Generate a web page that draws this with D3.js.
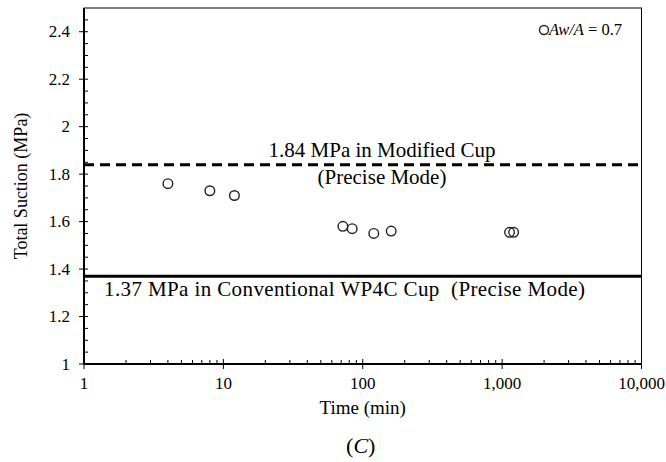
<!DOCTYPE html>
<html>
<head>
<meta charset="utf-8">
<script src="https://cdn.jsdelivr.net/npm/d3@7"></script>
<style>
  body { margin: 0; background: #fff; }
</style>
</head>
<body>
<svg id="chart" width="666" height="462" font-family="'Liberation Serif', Tinos, 'DejaVu Serif', serif"></svg>
<script>
// measured points (Aw/A = 0.7)
const times = [4, 8, 12, 72, 84, 120, 160, 1130, 1210];
const suction = [1.76, 1.73, 1.71, 1.58, 1.57, 1.55, 1.56, 1.555, 1.555];

// reference lines
const refValues = [1.84, 1.37];
const refSpan = [1, 10000];

const yTicks = [1, 1.2, 1.4, 1.6, 1.8, 2, 2.2, 2.4];
const xTicks = [1, 10, 100, 1000, 10000];

const svg = d3.select('#chart');
const margin = { top: 8, right: 24.5, bottom: 98, left: 84 };
const width = 666 - margin.left - margin.right;
const height = 462 - margin.top - margin.bottom;

const x = d3.scaleLog().domain([1, 10000]).range([0, width]);
const y = d3.scaleLinear().domain([1, 2.5]).range([height, 0]);

const g = svg.append('g').attr('transform', `translate(${margin.left},${margin.top})`);

// frame (top & right thin)
g.append('rect')
    .attr('x', 0).attr('y', 0)
    .attr('width', width).attr('height', height)
    .attr('fill', 'none').attr('stroke', '#000').attr('stroke-width', 1);

// minor ticks y (inside)
const yMinor = d3.range(1.05, 2.5, 0.05).filter(v => Math.abs(v * 5 - Math.round(v * 5)) > 1e-6);
g.selectAll('.ymin').data(yMinor).join('line')
    .attr('x1', 0).attr('x2', 4)
    .attr('y1', d => y(d)).attr('y2', d => y(d))
    .attr('stroke', '#000').attr('stroke-width', 1);

// major ticks y (cross)
g.selectAll('.ymaj').data(yTicks).join('line')
    .attr('x1', -5).attr('x2', 4)
    .attr('y1', d => y(d)).attr('y2', d => y(d))
    .attr('stroke', '#000').attr('stroke-width', 1);

g.selectAll('.ylab').data(yTicks).join('text')
    .attr('x', -14).attr('y', d => y(d)).attr('dy', '0.33em')
    .attr('text-anchor', 'end').attr('font-size', 17)
    .text(d => d3.format('~g')(d));

// x minor ticks (inside)
const xMinor = [];
for (let e = 0; e < 4; e++) for (let k = 2; k <= 9; k++) xMinor.push(k * Math.pow(10, e));
g.selectAll('.xmin').data(xMinor).join('line')
    .attr('x1', d => x(d)).attr('x2', d => x(d))
    .attr('y1', height).attr('y2', height - 4)
    .attr('stroke', '#000').attr('stroke-width', 1);

g.selectAll('.xmaj').data(xTicks).join('line')
    .attr('x1', d => x(d)).attr('x2', d => x(d))
    .attr('y1', height + 5).attr('y2', height - 5)
    .attr('stroke', '#000').attr('stroke-width', 1);

g.selectAll('.xlab').data(xTicks).join('text')
    .attr('x', d => x(d)).attr('y', height + 25)
    .attr('text-anchor', 'middle').attr('font-size', 17)
    .text(d => d3.format(',')(d));

// axis lines (thicker left & bottom)
g.append('line').attr('x1', 0).attr('x2', 0).attr('y1', 0).attr('y2', height)
    .attr('stroke', '#000').attr('stroke-width', 2);
g.append('line').attr('x1', 0).attr('x2', width).attr('y1', height).attr('y2', height)
    .attr('stroke', '#000').attr('stroke-width', 2);

// reference lines
g.append('line')
    .attr('x1', x(refSpan[0])).attr('x2', x(refSpan[1]))
    .attr('y1', y(refValues[0])).attr('y2', y(refValues[0]))
    .attr('stroke', '#000').attr('stroke-width', 3)
    .attr('stroke-dasharray', '10,6');
g.append('line')
    .attr('x1', x(refSpan[0])).attr('x2', x(refSpan[1]))
    .attr('y1', y(refValues[1])).attr('y2', y(refValues[1]))
    .attr('stroke', '#000').attr('stroke-width', 3);

// annotations
g.append('text').attr('x', 298).attr('y', y(refValues[0]) - 8)
    .attr('text-anchor', 'middle').attr('font-size', 21)
    .text('1.84 MPa in Modified Cup');
g.append('text').attr('x', 298).attr('y', y(refValues[0]) + 19)
    .attr('text-anchor', 'middle').attr('font-size', 21)
    .text('(Precise Mode)');
g.append('text').attr('x', 20).attr('y', y(refValues[1]) + 20)
    .attr('font-size', 21).attr('xml:space', 'preserve')
    .attr('textLength', 481).attr('lengthAdjust', 'spacing')
    .text('1.37 MPa in Conventional WP4C Cup  (Precise Mode)');

// data points
g.selectAll('.pt').data(times.map((t, i) => [t, suction[i]])).join('circle')
    .attr('cx', d => x(d[0])).attr('cy', d => y(d[1]))
    .attr('r', 4.8)
    .attr('fill', 'none').attr('stroke', '#222').attr('stroke-width', 1.4);

// legend
g.append('circle').attr('cx', 460).attr('cy', 22).attr('r', 4.5)
    .attr('fill', 'none').attr('stroke', '#222').attr('stroke-width', 1.4);
const leg = g.append('text').attr('x', 465).attr('y', 27).attr('font-size', 16.5);
leg.append('tspan').attr('font-style', 'italic').text('Aw/A');
leg.append('tspan').text(' = 0.7');

// axis titles
svg.append('text')
    .attr('x', margin.left + x(100)).attr('y', 414)
    .attr('text-anchor', 'middle').attr('font-size', 19)
    .text('Time (min)');
svg.append('text')
    .attr('transform', `translate(27,${margin.top + height / 2}) rotate(-90)`)
    .attr('text-anchor', 'middle').attr('font-size', 18)
    .text('Total Suction (MPa)');

const cap = svg.append('text')
    .attr('x', margin.left + x(100) - 2).attr('y', 453)
    .attr('text-anchor', 'middle').attr('font-size', 22);
cap.append('tspan').text('(');
cap.append('tspan').attr('font-style', 'italic').text('C');
cap.append('tspan').text(')');
</script>
</body>
</html>
